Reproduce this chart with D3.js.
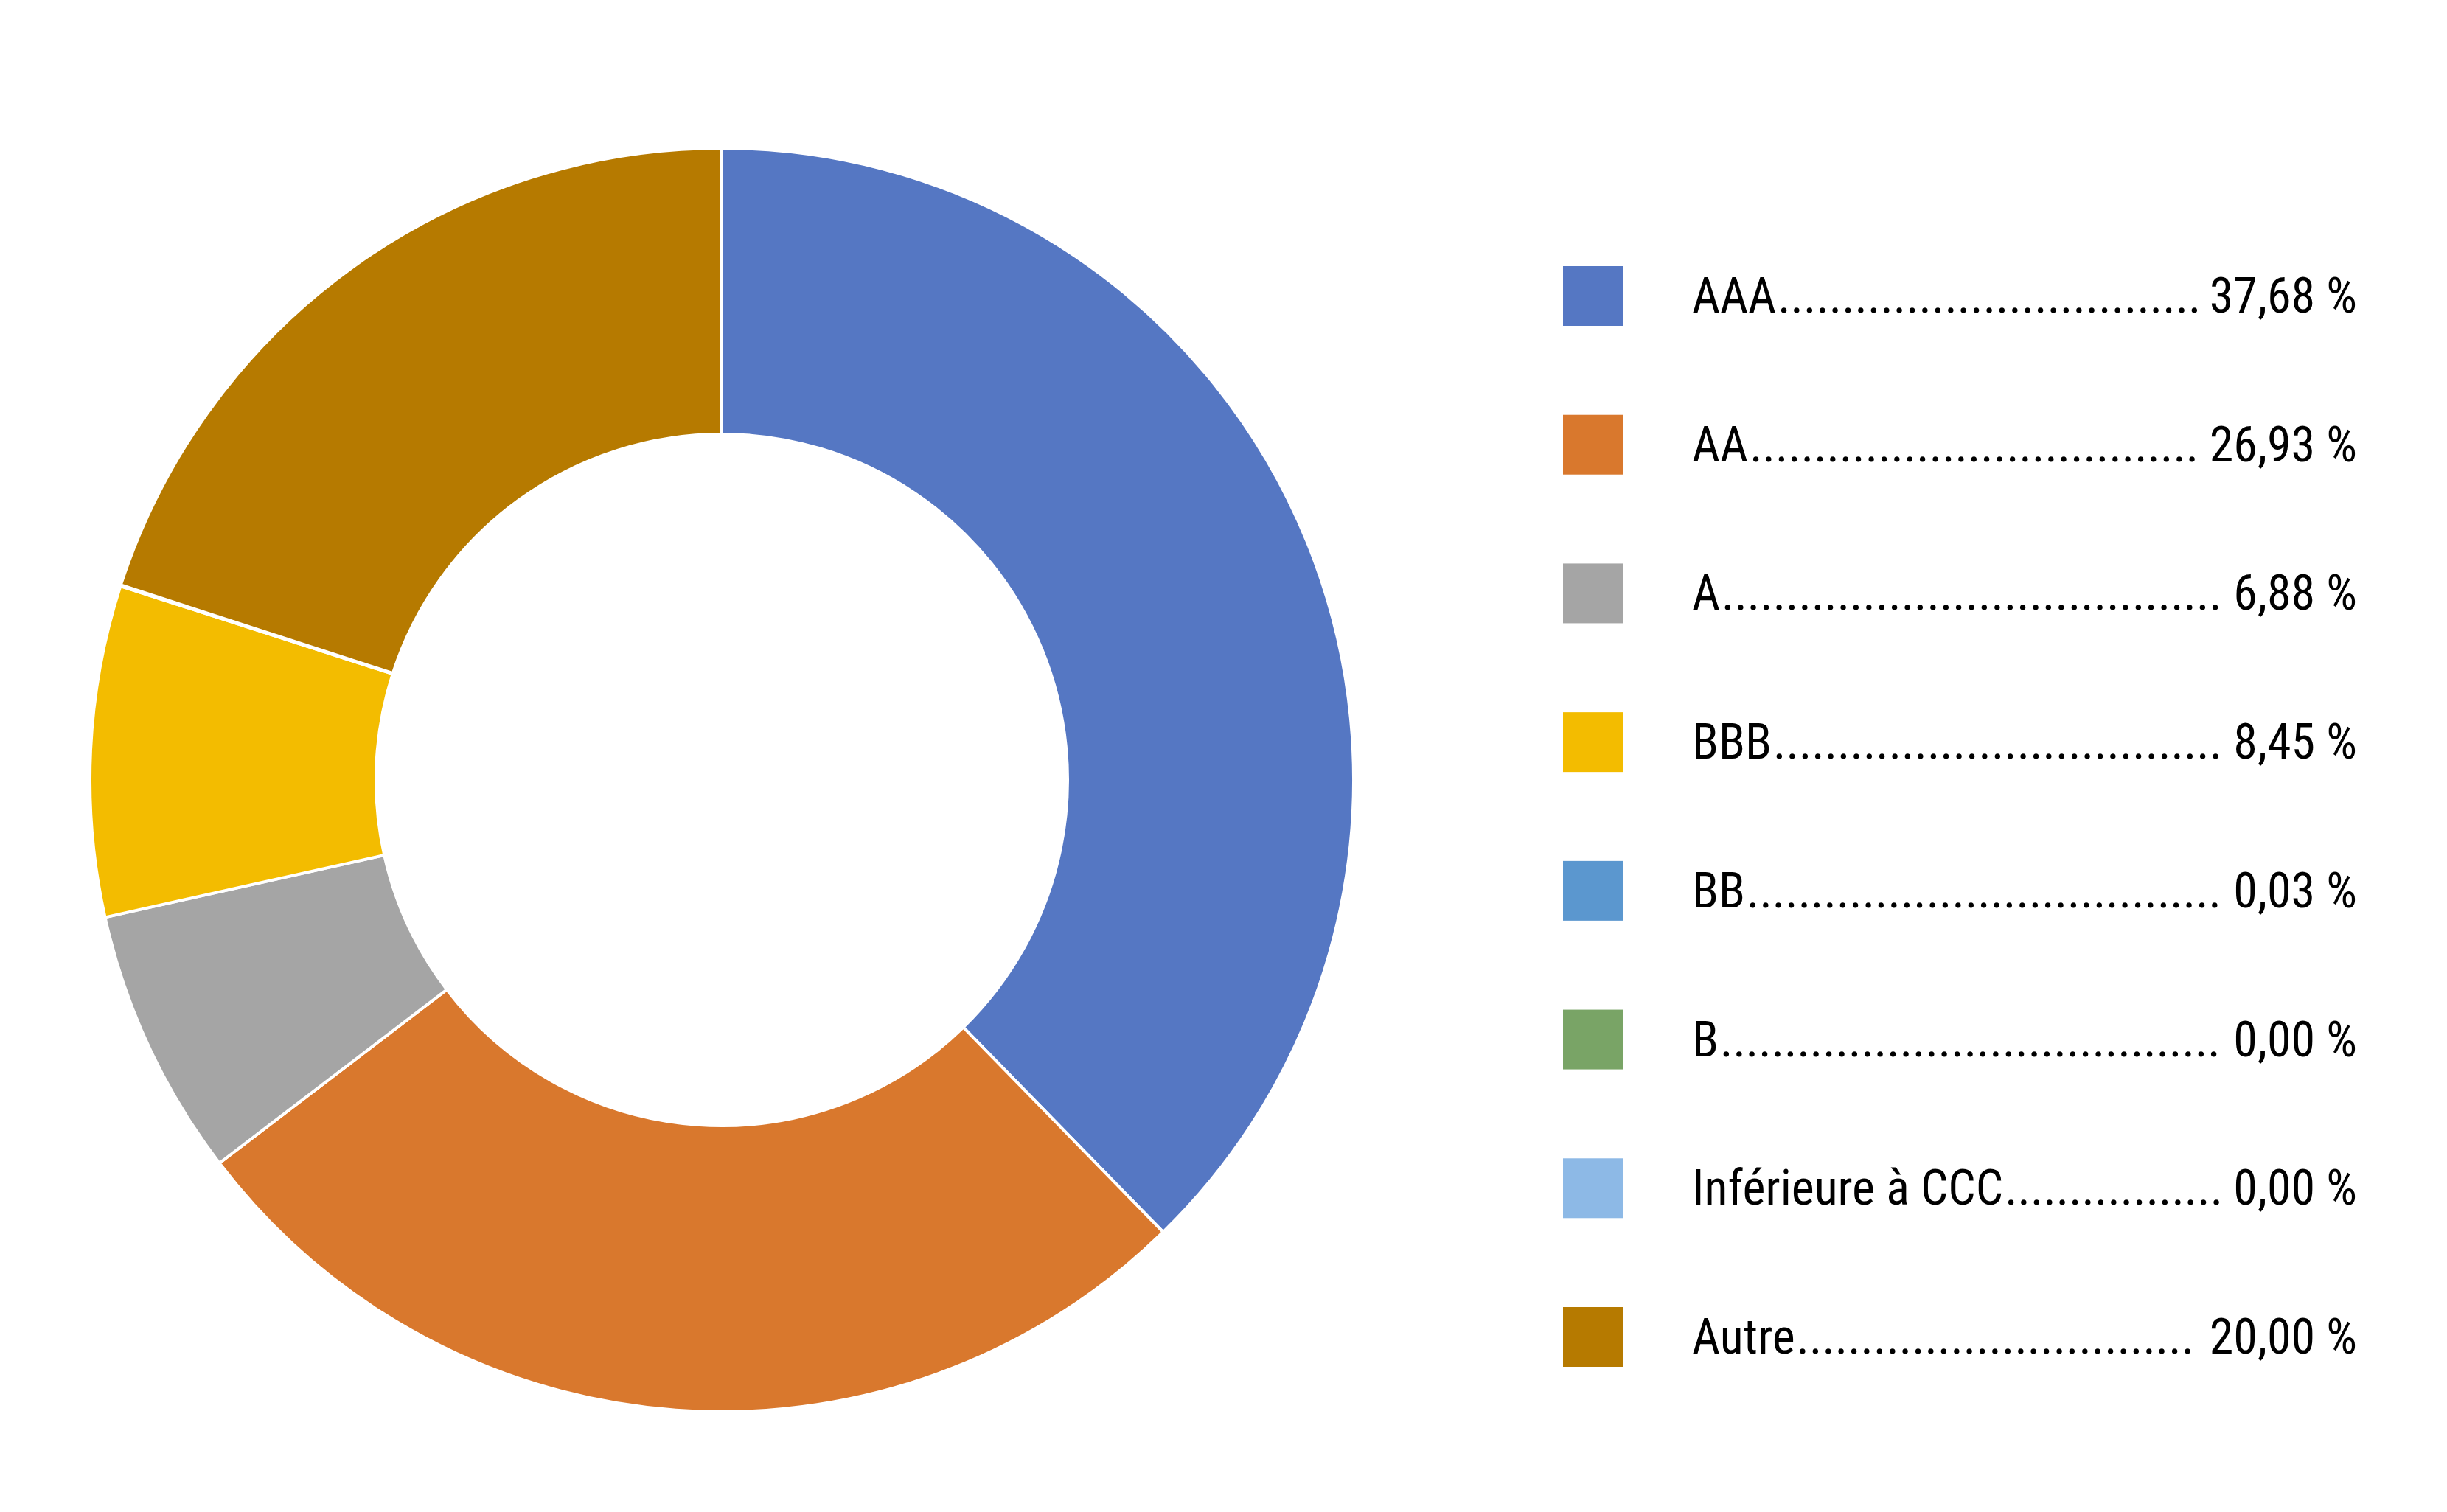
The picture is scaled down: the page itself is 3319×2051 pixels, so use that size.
<!DOCTYPE html>
<html><head><meta charset="utf-8">
<script src="https://cdn.jsdelivr.net/npm/d3@7"></script>
<style>body{margin:0;background:#fff}</style></head>
<body><svg id="c" width="3319" height="2051"></svg>
<script>
const categories = ["AAA","AA","A","BBB","BB","B","Inférieure à CCC","Autre"];
const values = [37.68, 26.93, 6.88, 8.45, 0.03, 0.00, 0.00, 20.00];
const valueLabels = ["37,68 %","26,93 %","6,88 %","8,45 %","0,03 %","0,00 %","0,00 %","20,00 %"];
const colors = ["#5577C3","#D9782D","#A5A5A5","#F3BC00","#5B97CF","#79A466","#8DB9E6","#B67A00"];

const svg = d3.select("#c");
const cx = 979, cy = 1058, R = 857, r = 469;
const pie = d3.pie().sort(null).value(d => d)(values);
const arc = d3.arc().innerRadius(r).outerRadius(R);
svg.append("g").attr("transform",`translate(${cx},${cy})`)
  .selectAll("path").data(pie).join("path")
  .attr("d", arc).attr("fill",(d,i)=>colors[i])
  .attr("stroke","#fff").attr("stroke-width",4);

const font = "'Liberation Sans Narrow','Roboto Condensed','Open Sans',sans-serif";
const y = d3.scalePoint().domain(categories).range([401, 1813]);
const lg = svg.append("g");
const xText = 2295, xEnd = 3197;
categories.forEach((c,i)=>{
  const yy = y(c);
  lg.append("rect").attr("x",2120).attr("y",yy-40).attr("width",81).attr("height",81).attr("fill",colors[i]);
  const t = lg.append("text").attr("x",xText).attr("y",yy+23).attr("font-family",font)
    .attr("font-size",66).attr("fill","#000").text(c);
  const v = lg.append("text").attr("x",xEnd).attr("y",yy+23).attr("text-anchor","end")
    .attr("font-family",font).attr("font-size",66).attr("fill","#000").text(valueLabels[i]);
  const lw = t.node().getComputedTextLength();
  const vw = v.node().getComputedTextLength();
  const start = xText + lw + 2, end = xEnd - vw - 6;
  const d = lg.append("text").attr("x",start).attr("y",yy+23).attr("font-family",font)
    .attr("font-size",66).attr("fill","#000").text(".");
  const dw = d.node().getComputedTextLength();
  const n = Math.max(0, Math.floor((end-start)/dw));
  d.text(".".repeat(n));
});
</script></body></html>
